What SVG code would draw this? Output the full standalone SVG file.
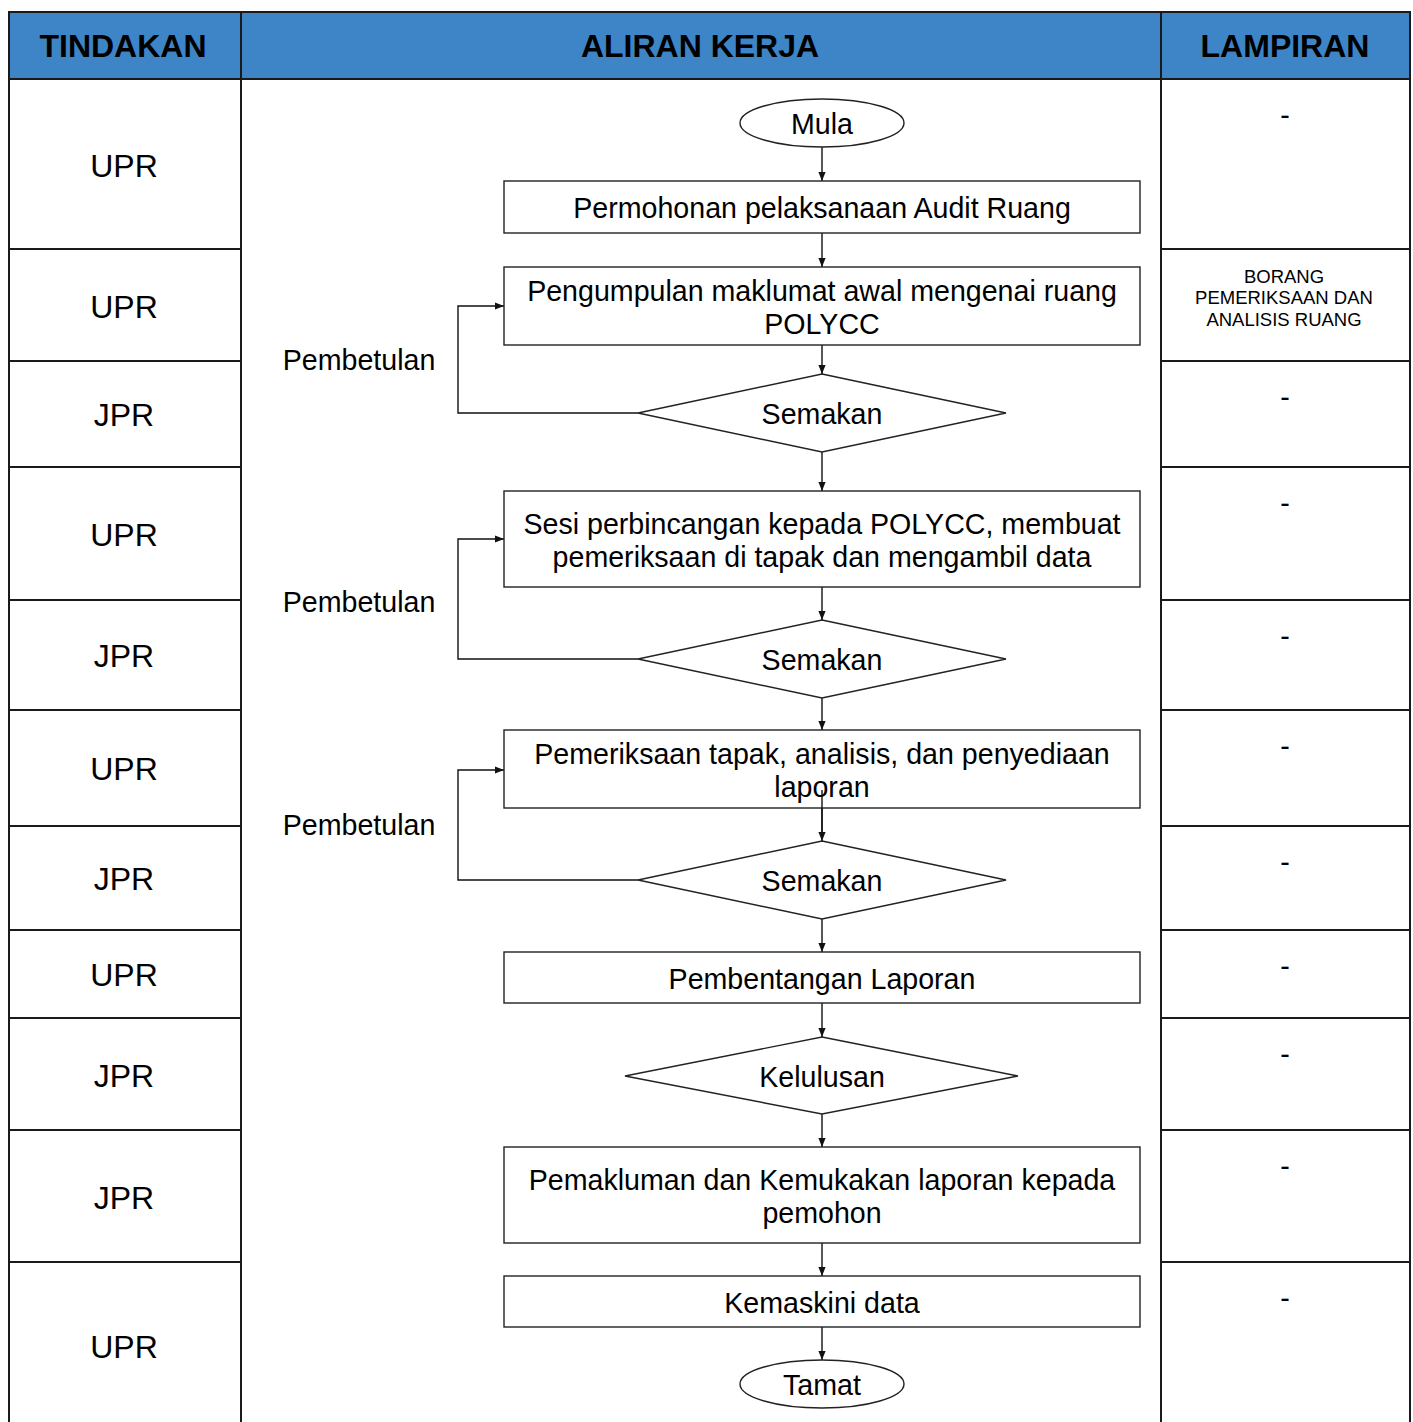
<svg xmlns="http://www.w3.org/2000/svg" width="1413" height="1422" viewBox="0 0 1413 1422">
<style>
text{font-family:"Liberation Sans",Arial,sans-serif;fill:#000}
.h{font-size:32px;font-weight:bold;text-anchor:middle}
.c{font-size:32px;text-anchor:middle}
.t{font-size:28.6px;text-anchor:middle}
.s{font-size:18.5px;text-anchor:middle}
.grid{stroke:#1a1a1a;stroke-width:2;fill:none}
.n{fill:#fff;stroke:#222;stroke-width:1.4}
.e{stroke:#111;stroke-width:1.4;fill:none;marker-end:url(#ah)}
</style>
<defs>
<marker id="ah" viewBox="0 0 10 10" refX="10" refY="5" markerWidth="9" markerHeight="9" markerUnits="userSpaceOnUse" orient="auto">
<path d="M0,1 L10,5 L0,9 z" fill="#111"/>
</marker>
</defs>
<rect width="1413" height="1422" fill="#fff"/>
<g id="table">
<rect x="9" y="12" width="1401" height="67" fill="#3d85c6"/>
<path class="grid" d="M9,1422 V12 H1410 V1422 M241,12 V1422 M1161,12 V1422 M9,79 H1410"/>
<path class="grid" d="M9,249 H241 M9,361 H241 M9,467 H241 M9,600 H241 M9,710 H241 M9,826 H241 M9,930 H241 M9,1018 H241 M9,1130 H241 M9,1262 H241"/>
<path class="grid" d="M1161,249 H1410 M1161,361 H1410 M1161,467 H1410 M1161,600 H1410 M1161,710 H1410 M1161,826 H1410 M1161,930 H1410 M1161,1018 H1410 M1161,1130 H1410 M1161,1262 H1410"/>
<text class="h" x="123" y="57">TINDAKAN</text>
<text class="h" x="700" y="57">ALIRAN KERJA</text>
<text class="h" x="1285" y="57">LAMPIRAN</text>
<text class="c" x="124" y="177">UPR</text>
<text class="c" x="124" y="318">UPR</text>
<text class="c" x="124" y="426">JPR</text>
<text class="c" x="124" y="546">UPR</text>
<text class="c" x="124" y="667">JPR</text>
<text class="c" x="124" y="780">UPR</text>
<text class="c" x="124" y="890">JPR</text>
<text class="c" x="124" y="986">UPR</text>
<text class="c" x="124" y="1087">JPR</text>
<text class="c" x="124" y="1209">JPR</text>
<text class="c" x="124" y="1358">UPR</text>
<text class="t" x="1285" y="125">-</text>
<text class="s" x="1284" y="283">BORANG</text>
<text class="s" x="1284" y="304">PEMERIKSAAN DAN</text>
<text class="s" x="1284" y="326">ANALISIS RUANG</text>
<text class="t" x="1285" y="407">-</text>
<text class="t" x="1285" y="513">-</text>
<text class="t" x="1285" y="646">-</text>
<text class="t" x="1285" y="756">-</text>
<text class="t" x="1285" y="872">-</text>
<text class="t" x="1285" y="976">-</text>
<text class="t" x="1285" y="1064">-</text>
<text class="t" x="1285" y="1176">-</text>
<text class="t" x="1285" y="1308">-</text>
</g>
<g id="connectors">
<path class="e" d="M822,147 V181"/>
<path class="e" d="M822,233 V267"/>
<path class="e" d="M822,345 V374"/>
<path class="e" d="M822,452 V491"/>
<path class="e" d="M822,587 V620"/>
<path class="e" d="M822,698 V730"/>
<path class="e" d="M822,790 V841"/>
<path class="e" d="M822,919 V952"/>
<path class="e" d="M822,1003 V1037"/>
<path class="e" d="M822,1114 V1147"/>
<path class="e" d="M822,1243 V1276"/>
<path class="e" d="M822,1327 V1360"/>
<path class="e" d="M638,413 H458 V306 H504"/>
<path class="e" d="M638,659 H458 V539 H504"/>
<path class="e" d="M638,880 H458 V770 H504"/>
<text class="t" x="359" y="370">Pembetulan</text>
<text class="t" x="359" y="612">Pembetulan</text>
<text class="t" x="359" y="835">Pembetulan</text>
</g>
<g id="mula"><ellipse class="n" cx="822" cy="123" rx="82" ry="24"/><text class="t" x="822" y="134">Mula</text></g>
<g id="permohonan"><rect class="n" x="504" y="181" width="636" height="52"/><text class="t" x="822" y="218">Permohonan pelaksanaan Audit Ruang</text></g>
<g id="pengumpulan"><rect class="n" x="504" y="267" width="636" height="78"/><text class="t" x="822" y="301">Pengumpulan maklumat awal mengenai ruang</text><text class="t" x="822" y="334">POLYCC</text></g>
<g id="semakan1"><polygon class="n" points="822,374 1006,413 822,452 638,413"/><text class="t" x="822" y="424">Semakan</text></g>
<g id="sesi"><rect class="n" x="504" y="491" width="636" height="96"/><text class="t" x="822" y="534">Sesi perbincangan kepada POLYCC, membuat</text><text class="t" x="822" y="567">pemeriksaan di tapak dan mengambil data</text></g>
<g id="semakan2"><polygon class="n" points="822,620 1006,659 822,698 638,659"/><text class="t" x="822" y="670">Semakan</text></g>
<g id="pemeriksaan"><rect class="n" x="504" y="730" width="636" height="78"/><text class="t" x="822" y="764">Pemeriksaan tapak, analisis, dan penyediaan</text><text class="t" x="822" y="797">laporan</text></g>
<path d="M822,790 V833" stroke="#111" stroke-width="1.4"/>
<g id="semakan3"><polygon class="n" points="822,841 1006,880 822,919 638,880"/><text class="t" x="822" y="891">Semakan</text></g>
<g id="pembentangan"><rect class="n" x="504" y="952" width="636" height="51"/><text class="t" x="822" y="989">Pembentangan Laporan</text></g>
<g id="kelulusan"><polygon class="n" points="822,1037 1018,1076 822,1114 625,1076"/><text class="t" x="822" y="1087">Kelulusan</text></g>
<g id="pemakluman"><rect class="n" x="504" y="1147" width="636" height="96"/><text class="t" x="822" y="1190">Pemakluman dan Kemukakan laporan kepada</text><text class="t" x="822" y="1223">pemohon</text></g>
<g id="kemaskini"><rect class="n" x="504" y="1276" width="636" height="51"/><text class="t" x="822" y="1313">Kemaskini data</text></g>
<g id="tamat"><ellipse class="n" cx="822" cy="1384" rx="82" ry="24"/><text class="t" x="822" y="1395">Tamat</text></g>
</svg>
